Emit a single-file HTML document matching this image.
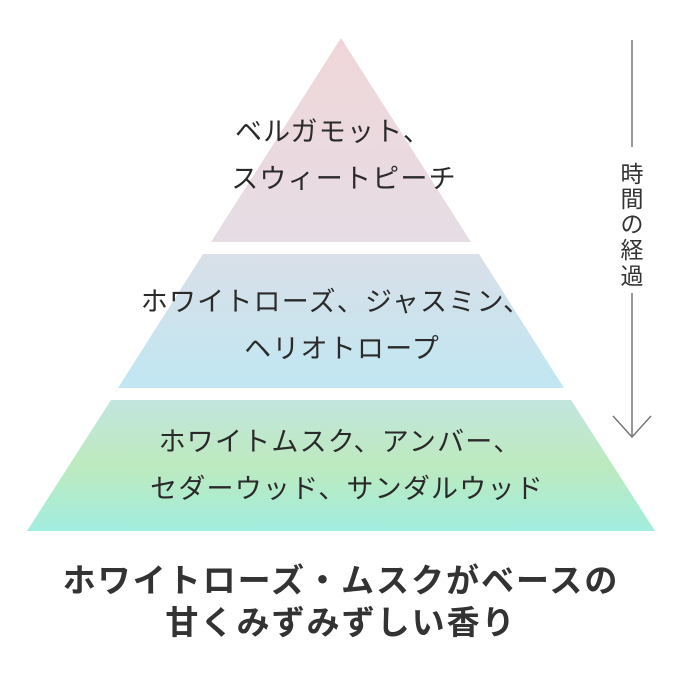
<!DOCTYPE html>
<html><head><meta charset="utf-8"><style>
body{margin:0;background:#fff;}
svg text{font-family:"Liberation Sans","Noto Sans CJK JP",sans-serif;}
</style></head><body>
<svg width="680" height="680" viewBox="0 0 680 680" xmlns="http://www.w3.org/2000/svg">
<defs>
<linearGradient id="g1" x1="0" y1="0" x2="0" y2="1"><stop offset="0" stop-color="#f0d6d9"/><stop offset="1" stop-color="#e6dde5"/></linearGradient>
<linearGradient id="g2" x1="0" y1="0" x2="0" y2="1"><stop offset="0" stop-color="#d9dfe8"/><stop offset="1" stop-color="#c0e7f2"/></linearGradient>
<linearGradient id="g3" x1="0" y1="0" x2="0" y2="1"><stop offset="0" stop-color="#c2e5de"/><stop offset="0.5" stop-color="#bdeabe"/><stop offset="1" stop-color="#a2eddf"/></linearGradient>
</defs>
<polygon points="341,38 471,242 211,242" fill="url(#g1)"/>
<polygon points="203,254 479,254 564,388 118,388" fill="url(#g2)"/>
<polygon points="111,400 571,400 655,531 27,531" fill="url(#g3)"/>
<g fill="#2a2a2a" font-size="27" letter-spacing="1.2" text-anchor="middle">
<text x="333" y="141">ベルガモット、</text>
<text x="344" y="188">スウィートピーチ</text>
<text x="336" y="311">ホワイトローズ、ジャスミン、</text>
<text x="342" y="358">ヘリオトロープ</text>
<text x="340" y="451">ホワイトムスク、アンバー、</text>
<text x="347" y="498">セダーウッド、サンダルウッド</text>
</g>
<g stroke="#777" stroke-width="1.5" fill="none">
<line x1="632" y1="40" x2="632" y2="147"/>
<line x1="632" y1="293" x2="632" y2="437"/>
<polyline points="613,416 632,437 651,416"/>
</g>
<g fill="#333" font-size="23" text-anchor="middle">
<text x="632" y="182">時</text>
<text x="632" y="207">間</text>
<text x="632" y="232">の</text>
<text x="632" y="258">経</text>
<text x="632" y="284">過</text>
</g>
<g fill="#333" font-size="33" font-weight="bold" letter-spacing="2" text-anchor="middle">
<text x="341" y="592">ホワイトローズ・ムスクがベースの</text>
<text x="341" y="634">甘くみずみずしい香り</text>
</g>
</svg>
</body></html>
